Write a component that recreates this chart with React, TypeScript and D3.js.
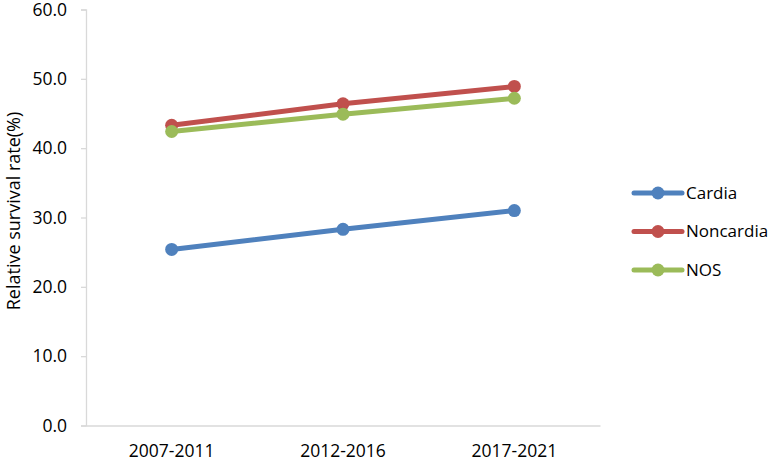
import { useEffect, useRef } from 'react';
import * as d3 from 'd3';

const periods = ["2007-2011", "2012-2016", "2017-2021"];
const seriesNames = ["Cardia", "Noncardia", "NOS"];
const cardia = [25.4, 28.3, 31.0];
const noncardia = [43.3, 46.4, 48.9];
const nos = [42.4, 44.9, 47.2];
const seriesColors = ["#4F81BD", "#C0504D", "#9BBB59"];
const yTicks = [0, 10, 20, 30, 40, 50, 60];

const FONT = "'Open Sans', sans-serif";

const buildChart = (svgEl: SVGSVGElement) => {
  const svg = d3.select(svgEl);
  svg.selectAll("*").remove();

  const allSeries = [cardia, noncardia, nos];

  const x = d3.scaleBand().domain(periods).range([86, 600]);
  const y = d3.scaleLinear().domain([0, 60]).range([425.5, 9.5]);

  // y axis
  const yAxis = svg.append("g")
    .attr("transform", "translate(86,0)")
    .call(d3.axisLeft(y).tickValues(yTicks).tickSize(5).tickPadding(14).tickFormat(d3.format(".1f")));
  yAxis.select(".domain").attr("stroke", "#d9d9d9").attr("stroke-width", 1.3);
  yAxis.selectAll(".tick line").attr("stroke", "#d9d9d9").attr("stroke-width", 1.3);
  yAxis.selectAll("text")
    .attr("font-family", FONT)
    .attr("font-size", 17.5)
    .attr("fill", "#000");

  // x axis
  const xAxis = svg.append("g")
    .attr("transform", "translate(0,425.5)")
    .call(d3.axisBottom(x).tickSize(0).tickPadding(19));
  xAxis.select(".domain").attr("stroke", "#d9d9d9").attr("stroke-width", 1.3);
  xAxis.selectAll("text")
    .attr("font-family", FONT)
    .attr("font-size", 17.5)
    .attr("fill", "#000");

  // axis title
  svg.append("text")
    .attr("transform", "translate(20,211) rotate(-90)")
    .attr("text-anchor", "middle")
    .attr("font-family", FONT)
    .attr("font-size", 18)
    .attr("fill", "#000")
    .text("Relative survival rate(%)");

  const line = d3.line<number>()
    .x((d, i) => (x(periods[i]) as number) + x.bandwidth() / 2)
    .y((d) => y(d));

  allSeries.forEach((vals, si) => {
    const g = svg.append("g");
    g.append("path")
      .attr("d", line(vals))
      .attr("fill", "none")
      .attr("stroke", seriesColors[si])
      .attr("stroke-width", 5)
      .attr("stroke-linecap", "round");
    g.selectAll("circle")
      .data(vals)
      .enter()
      .append("circle")
      .attr("cx", (d, i) => (x(periods[i]) as number) + x.bandwidth() / 2)
      .attr("cy", (d) => y(d))
      .attr("r", 6.5)
      .attr("fill", seriesColors[si]);
  });

  // legend
  const legend = svg.append("g").attr("transform", "translate(634,193)");
  seriesNames.forEach((name, i) => {
    const row = legend.append("g").attr("transform", `translate(0,${i * 38.5})`);
    row.append("line")
      .attr("x1", 0).attr("x2", 48)
      .attr("stroke", seriesColors[i])
      .attr("stroke-width", 5)
      .attr("stroke-linecap", "round");
    row.append("circle").attr("cx", 24).attr("r", 6.5).attr("fill", seriesColors[i]);
    row.append("text")
      .attr("x", 52)
      .attr("dy", "0.35em")
      .attr("font-family", FONT)
      .attr("font-size", 17)
      .attr("fill", "#000")
      .text(name);
  });
};

const App = () => {
  const ref = useRef<SVGSVGElement>(null);

  useEffect(() => {
    document.body.style.margin = "0";
    if (ref.current) buildChart(ref.current);
  }, []);

  return (
    <svg ref={ref} width={772} height={462} style={{ display: "block", background: "#fff" }} />
  );
};

export default App;
